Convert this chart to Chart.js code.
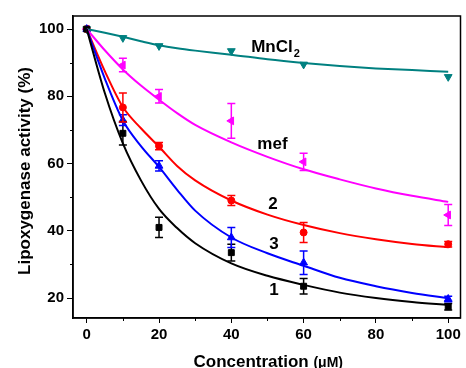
<!DOCTYPE html>
<html>
<head>
<meta charset="utf-8">
<script src="https://cdn.jsdelivr.net/npm/chart.js@4/dist/chart.umd.min.js"></script>
<style>
  html, body { margin: 0; padding: 0; background: #fff; }
  #wrap { width: 466px; height: 368px; }
</style>
</head>
<body>
<div id="wrap"><canvas id="lipoChart" width="466" height="368"></canvas></div>
<script>
// measured points (concentration in uM)
const conc = [0, 10, 20, 40, 60, 100];
const act1 = [100, 69, 41, 33.5, 23.5, 17.4];
const err1 = [0, 3.5, 3, 2.5, 2.3, 1];
const act2 = [100, 76.7, 65.2, 49, 39.5, 36];
const err2 = [0, 4.3, 1.1, 1.5, 3, 0.8];
const act3 = [100, 72.9, 59.3, 38, 30.5, 19.7];
const err3 = [0, 1.6, 1.5, 3, 3.5, 0.8];
const actMef = [100, 89.3, 80, 72.7, 60.5, 44.7];
const errMef = [0, 2, 2, 5.2, 2.6, 3.1];
const actMn = [100, 97.4, 95, 93.5, 89.5, 85.8];

// fitted curves
const fitX = [0, 5, 10, 15, 20, 25, 30, 40, 50, 60, 70, 80, 90, 100];
const fit1 = [100, 81, 66, 55, 46.5, 40.8, 36.3, 30.3, 26.6, 23.9, 21.6, 20, 18.8, 17.9];
const fit2 = [100, 87.5, 76.8, 70.5, 65, 59.3, 55, 49, 44.8, 41.7, 39.3, 37.5, 36.1, 35.1];
const fit3 = [100, 85.3, 72.8, 65.2, 59, 52.2, 46, 38, 33.3, 29.6, 26, 23.5, 21.5, 19.9];
const fitMef = [100, 93.7, 88, 83.2, 79, 75, 71.5, 66.3, 62, 58.3, 55.3, 52.6, 50.4, 48.6];
const fitMn = [100, 98.9, 97.7, 96.4, 95.2, 94.3, 93.6, 92.4, 91, 89.9, 89, 88.3, 87.8, 87.3];

const xTicks = [0, 10, 20, 30, 40, 50, 60, 70, 80, 90, 100];
const yTicks = [20, 30, 40, 50, 60, 70, 80, 90, 100];

const FONT = "'Liberation Sans', Arial, sans-serif";
const BLACK = '#000000', RED = '#ff0000', BLUE = '#0000ff', MAGENTA = '#ff00ff', TEAL = '#008080';

const pts = (xs, ys) => xs.map((x, i) => ({ x, y: ys[i] }));
const isMajor = v => v % 20 === 0;

function curve(ys, color) {
    return {
        data: pts(fitX, ys),
        showLine: true,
        borderColor: color,
        borderWidth: 2,
        pointRadius: 0,
        cubicInterpolationMode: 'monotone',
        fill: false
    };
}

function markers(ys, errs, color, style, radius, rotation) {
    return {
        data: pts(conc, ys),
        errors: errs,
        showLine: false,
        pointStyle: style,
        pointRadius: radius,
        pointRotation: rotation || 0,
        backgroundColor: color,
        borderColor: color,
        borderWidth: 1
    };
}

const errorBars = {
    id: 'errorBars',
    afterDatasetsDraw(chart) {
        const { ctx, scales: { x, y } } = chart;
        ctx.save();
        ctx.lineWidth = 1.5;
        chart.data.datasets.forEach(ds => {
            if (!ds.errors) return;
            ctx.strokeStyle = ds.borderColor;
            ds.data.forEach((p, i) => {
                const e = ds.errors[i];
                if (!e) return;
                const px = x.getPixelForValue(p.x);
                const top = y.getPixelForValue(p.y + e);
                const bot = y.getPixelForValue(p.y - e);
                ctx.beginPath();
                ctx.moveTo(px, top); ctx.lineTo(px, bot);
                ctx.moveTo(px - 4, top); ctx.lineTo(px + 4, top);
                ctx.moveTo(px - 4, bot); ctx.lineTo(px + 4, bot);
                ctx.stroke();
            });
        });
        ctx.restore();
    }
};

const decorations = {
    id: 'decorations',
    afterDraw(chart) {
        const { ctx, chartArea: a, scales: { x, y } } = chart;
        ctx.save();
        // frame
        ctx.strokeStyle = '#000';
        ctx.lineWidth = 1.5;
        ctx.strokeRect(a.left, a.top, a.right - a.left, a.bottom - a.top);

        // short minor ticks
        ctx.lineWidth = 1;
        ctx.beginPath();
        xTicks.filter(v => !isMajor(v)).forEach(v => {
            const px = Math.round(x.getPixelForValue(v)) + 0.5;
            ctx.moveTo(px, a.bottom); ctx.lineTo(px, a.bottom + 3);
        });
        yTicks.filter(v => !isMajor(v)).forEach(v => {
            const py = Math.round(y.getPixelForValue(v)) + 0.5;
            ctx.moveTo(a.left, py); ctx.lineTo(a.left - 3, py);
        });
        ctx.stroke();

        // series labels
        ctx.fillStyle = '#000';
        ctx.textAlign = 'left';
        ctx.textBaseline = 'alphabetic';
        ctx.font = 'bold 17px ' + FONT;
        const labels = [
            ['MnCl', 45.5, 93.2],
            ['mef', 47.2, 64.3],
            ['2', 50.2, 46.4],
            ['3', 50.5, 34.5],
            ['1', 50.5, 20.9]
        ];
        labels.forEach(([t, lx, ly]) => {
            ctx.fillText(t, x.getPixelForValue(lx), y.getPixelForValue(ly));
        });
        const mnW = ctx.measureText('MnCl').width;
        ctx.font = 'bold 11px ' + FONT;
        ctx.fillText('2', x.getPixelForValue(45.5) + mnW + 1, y.getPixelForValue(93.2) + 5);

        // x title
        ctx.font = 'bold 17px ' + FONT;
        const w1 = ctx.measureText('Concentration ').width;
        ctx.font = 'bold 14px ' + FONT;
        const w2 = ctx.measureText('(\u03bcM)').width;
        const cx = (a.left + a.right) / 2 + 1.5;
        const sx = cx - (w1 + w2) / 2;
        ctx.font = 'bold 17px ' + FONT;
        ctx.fillText('Concentration ', sx, 366.5);
        ctx.font = 'bold 14px ' + FONT;
        ctx.fillText('(\u03bcM)', sx + w1, 366.5);

        // y title
        ctx.translate(25, (a.top + a.bottom) / 2 + 4);
        ctx.rotate(-Math.PI / 2);
        ctx.textAlign = 'center';
        ctx.textBaseline = 'middle';
        ctx.font = 'bold 17px ' + FONT;
        ctx.fillText('Lipoxygenase activity (%)', 0, 0);
        ctx.restore();
    }
};

new Chart(document.getElementById('lipoChart').getContext('2d'), {
    type: 'scatter',
    data: {
        datasets: [
            curve(fit1, BLACK),
            curve(fit3, BLUE),
            curve(fit2, RED),
            curve(fitMef, MAGENTA),
            curve(fitMn, TEAL),
            markers(act1, err1, BLACK, 'rect', 4.2),
            markers(act3, err3, BLUE, 'triangle', 4.5),
            markers(act2, err2, RED, 'circle', 3.5),
            markers(actMef, errMef, MAGENTA, 'triangle', 4.5, -90),
            markers(actMn, null, TEAL, 'triangle', 4.5, 180)
        ]
    },
    options: {
        responsive: false,
        animation: false,
        layout: { padding: { left: 0, right: 2, top: 16, bottom: 0 } },
        plugins: {
            legend: { display: false },
            tooltip: { enabled: false }
        },
        scales: {
            x: {
                type: 'linear',
                min: -3.8,
                max: 103.4,
                afterBuildTicks: s => { s.ticks = xTicks.map(v => ({ value: v })); },
                afterFit: s => { s.height = 50; },
                grid: {
                    drawOnChartArea: false, drawTicks: true, tickLength: 5, lineWidth: 1,
                    tickColor: c => (isMajor(c.tick.value) ? '#000' : 'rgba(0,0,0,0)')
                },
                border: { display: true, color: '#000', width: 1.5 },
                ticks: {
                    color: '#000',
                    padding: 3,
                    maxRotation: 0,
                    autoSkip: false,
                    font: { family: FONT, size: 15, weight: 'bold' },
                    callback: v => (isMajor(v) ? String(v) : '')
                }
            },
            y: {
                type: 'linear',
                min: 14.05,
                max: 103.9,
                afterBuildTicks: s => { s.ticks = yTicks.map(v => ({ value: v })); },
                afterFit: s => { s.width = 73; },
                grid: {
                    drawOnChartArea: false, drawTicks: true, tickLength: 6, lineWidth: 1,
                    tickColor: c => (isMajor(c.tick.value) ? '#000' : 'rgba(0,0,0,0)')
                },
                border: { display: true, color: '#000', width: 1.5 },
                ticks: {
                    color: '#000',
                    padding: 3,
                    autoSkip: false,
                    font: { family: FONT, size: 15, weight: 'bold' },
                    callback: v => (isMajor(v) ? String(v) : '')
                }
            }
        }
    },
    plugins: [errorBars, decorations]
});
</script>
</body>
</html>
